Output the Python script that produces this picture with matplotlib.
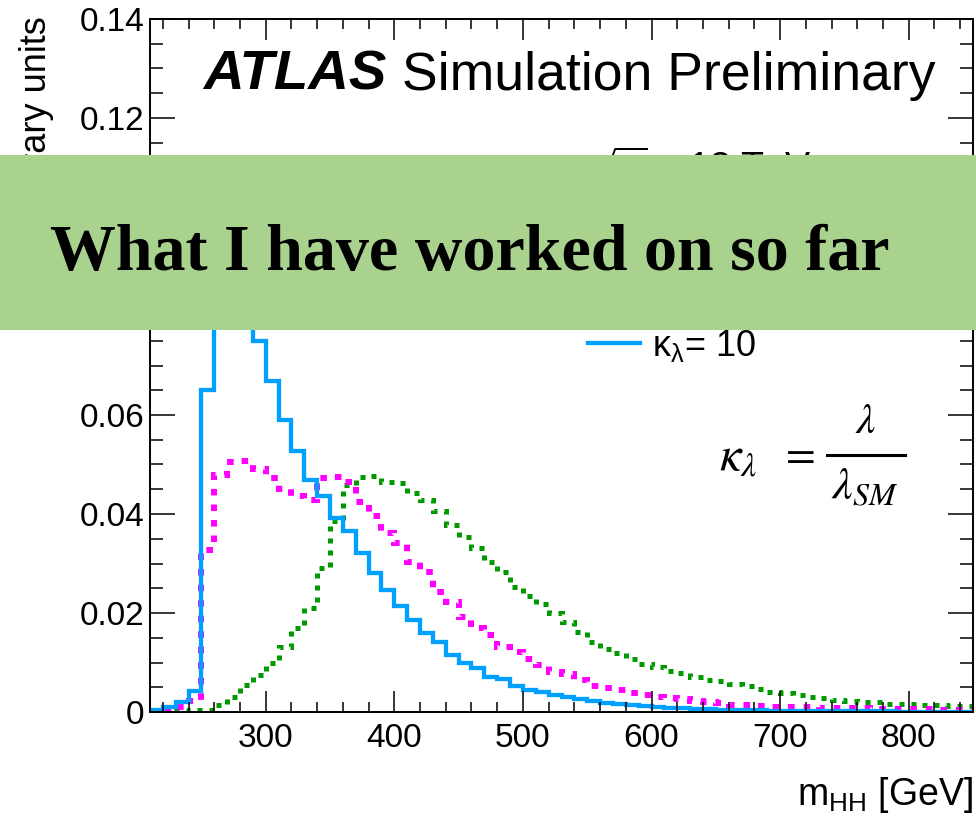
import numpy as np
import matplotlib
matplotlib.use("Agg")
import matplotlib.pyplot as plt
from matplotlib.patches import Rectangle
from matplotlib.lines import Line2D
from matplotlib.ticker import MultipleLocator, FuncFormatter

plt.rcParams['font.family'] = ['Liberation Sans', 'DejaVu Sans']

# ---------------- data ----------------
bin_edges = np.arange(210, 851, 10)   # m_HH bin edges [GeV]

kl10 = [0.0005, 0.0010, 0.0021, 0.0042, 0.0651, 0.0900, 0.0920, 0.0830,
        0.0749, 0.0668, 0.0590, 0.0528, 0.0469, 0.0436, 0.0392, 0.0365,
        0.0322, 0.0280, 0.0246, 0.0214, 0.0186, 0.0159, 0.0142, 0.0115,
        0.0100, 0.0089, 0.0071, 0.0066, 0.0053, 0.0044, 0.0040, 0.0034,
        0.0030, 0.0026, 0.0022, 0.0019, 0.0016, 0.0014, 0.0012, 0.0010,
        0.0009, 0.0008, 0.0007, 0.0006, 0.0005, 0.0005, 0.0004, 0.0004,
        0.0003, 0.0003, 0.0003, 0.0003, 0.0002, 0.0002, 0.0002, 0.0002,
        0.0002, 0.0002, 0.0001, 0.0001, 0.0001, 0.0001, 0.0001, 0.0001]

kl2 = [0.0003, 0.0005, 0.0011, 0.0023, 0.0328, 0.0479, 0.0506, 0.0508,
       0.0491, 0.0473, 0.0451, 0.0437, 0.0428, 0.0473, 0.0475, 0.0465,
       0.0424, 0.0396, 0.0362, 0.0341, 0.0304, 0.0283, 0.0243, 0.0222,
       0.0192, 0.0169, 0.0156, 0.0132, 0.0121, 0.0108, 0.0094, 0.0080,
       0.0076, 0.0065, 0.0053, 0.0049, 0.0045, 0.0038, 0.0034, 0.0031,
       0.0028, 0.0026, 0.0022, 0.0020, 0.0019, 0.0015, 0.0014, 0.0012,
       0.0011, 0.0011, 0.0010, 0.0010, 0.0009, 0.0009, 0.0008, 0.0008,
       0.0007, 0.0007, 0.0006, 0.0006, 0.0006, 0.0005, 0.0005, 0.0005]

kl1 = [0.0002, 0.0003, 0.0003, 0.0004, 0.0005, 0.0014, 0.0031, 0.0055,
       0.0075, 0.0100, 0.0132, 0.0170, 0.0210, 0.0290, 0.0385, 0.0459,
       0.0475, 0.0477, 0.0465, 0.0463, 0.0443, 0.0428, 0.0407, 0.0378,
       0.0354, 0.0332, 0.0304, 0.0282, 0.0253, 0.0234, 0.0218, 0.0199,
       0.0181, 0.0162, 0.0142, 0.0128, 0.0120, 0.0107, 0.0097, 0.0090,
       0.0083, 0.0079, 0.0071, 0.0065, 0.0062, 0.0056, 0.0053, 0.0046,
       0.0040, 0.0038, 0.0034, 0.0031, 0.0029, 0.0025, 0.0022, 0.0021,
       0.0020, 0.0017, 0.0016, 0.0016, 0.0015, 0.0014, 0.0013, 0.0013]

labels = ["κ$_\\mathregular{λ}$= 1", "κ$_\\mathregular{λ}$= 2", "κ$_\\mathregular{λ}$= 10"]
y_ticks = [0, 0.02, 0.04, 0.06, 0.08, 0.10, 0.12, 0.14]
x_ticks = [300, 400, 500, 600, 700, 800]

# ---------------- figure ----------------
W, H = 976, 817
fig = plt.figure(figsize=(W / 100, H / 100), dpi=100)
AX_L, AX_R, AX_T, AX_B = 150, 973, 19, 712
ax = fig.add_axes([AX_L / W, 1 - AX_B / H, (AX_R - AX_L) / W, (AX_B - AX_T) / H])

c_green = '#009A00'
c_mag = '#FF00FF'
c_blue = '#00A0FF'
ls_green = (0, (1.0, 1.4))
ls_mag = (0, (1.1, 1.5))

ax.stairs(kl1, bin_edges, baseline=None, color=c_green, linewidth=3.6,
          linestyle=ls_green)
ax.stairs(kl2, bin_edges, baseline=None, color=c_mag, linewidth=4.3,
          linestyle=ls_mag)
ax.stairs(kl10, bin_edges, baseline=None, color=c_blue, linewidth=3.1)

ax.set_xlim(210, 850)
ax.set_ylim(0, 0.14)
ax.set_xticks(x_ticks)
ax.set_yticks(y_ticks)
ax.xaxis.set_minor_locator(MultipleLocator(20))
ax.yaxis.set_minor_locator(MultipleLocator(0.005))
ax.yaxis.set_major_formatter(FuncFormatter(lambda v, p: '0' if abs(v) < 1e-9 else f'{v:.2f}'))
ax.tick_params(which='both', direction='in', top=True, right=True, width=1.1,
               labelsize=24)
ax.tick_params(axis='x', which='major', length=15, pad=8)
ax.tick_params(axis='x', which='minor', length=7.5)
ax.tick_params(axis='y', which='major', length=18, pad=4)
ax.tick_params(axis='y', which='minor', length=9.5)
for s in ax.spines.values():
    s.set_linewidth(1.4)

ax.set_ylabel('Arbitrary units', fontsize=26, loc='top')
ax.yaxis.set_label_coords((54 - AX_L) / (AX_R - AX_L), 1 + 3 / (AX_B - AX_T))
ax.set_xlabel('m$_\\mathregular{HH}$ [GeV]', fontsize=27, loc='right')
ax.xaxis.label.set_va('baseline')
ax.xaxis.set_label_coords(1.0, -(805 - AX_B) / (AX_B - AX_T))

# ATLAS label
fig.text(203 / W, 1 - 90 / H, 'ATLAS', fontsize=40.5, fontweight='bold',
         fontstyle='italic', va='baseline', ha='left')
fig.text(402 / W, 1 - 90 / H, 'Simulation Preliminary', fontsize=38.5,
         va='baseline', ha='left')
fig.text(593 / W, 1 - 149 / H, r'$\sqrt{s}$ = 13 TeV', fontsize=27,
         va='top', ha='left')

# legend
handles = [Line2D([], [], color=c_green, lw=3.6, linestyle=ls_green),
           Line2D([], [], color=c_mag, lw=4.3, linestyle=ls_mag),
           Line2D([], [], color=c_blue, lw=3.1)]
ax.legend(handles, labels, loc='lower left',
          bbox_to_anchor=(588 / W, 1 - 364 / H), bbox_transform=fig.transFigure,
          frameon=False, borderpad=0, borderaxespad=0, handlelength=1.45,
          handletextpad=0.32, labelspacing=0.6, fontsize=26)

# kappa definition  (kappa_lambda = lambda / lambda_SM)
MF = 'stix'
fig.text(719 / W, 1 - 470 / H, r'$\kappa_{\lambda}$', math_fontfamily=MF,
         fontsize=35, ha='left', va='baseline')
fig.text(797 / W, 1 - 455 / H, r'$=$', math_fontfamily=MF,
         fontsize=31, ha='center', va='center')
fig.add_artist(Line2D([827 / W, 905 / W], [1 - 455 / H, 1 - 455 / H],
                      transform=fig.transFigure, color='black', lw=2.2))
fig.text(866 / W, 1 - 433 / H, r'$\lambda$', math_fontfamily=MF,
         fontsize=31, ha='center', va='baseline')
fig.text(865 / W, 1 - 500 / H, r'$\lambda_{SM}$', math_fontfamily=MF,
         fontsize=33, ha='center', va='baseline')

# banner overlay
banner = Rectangle((0, 1 - 330 / H), 1, 175 / H, transform=fig.transFigure,
                   facecolor='#A8D28E', edgecolor='none', zorder=10)
fig.add_artist(banner)
fig.text(50 / W, 1 - 270 / H, 'What I have worked on so far',
         family=['Liberation Serif', 'DejaVu Serif'], fontweight='bold',
         fontsize=47.5, va='baseline', ha='left', zorder=11)

fig.savefig('out.png', dpi=100)
